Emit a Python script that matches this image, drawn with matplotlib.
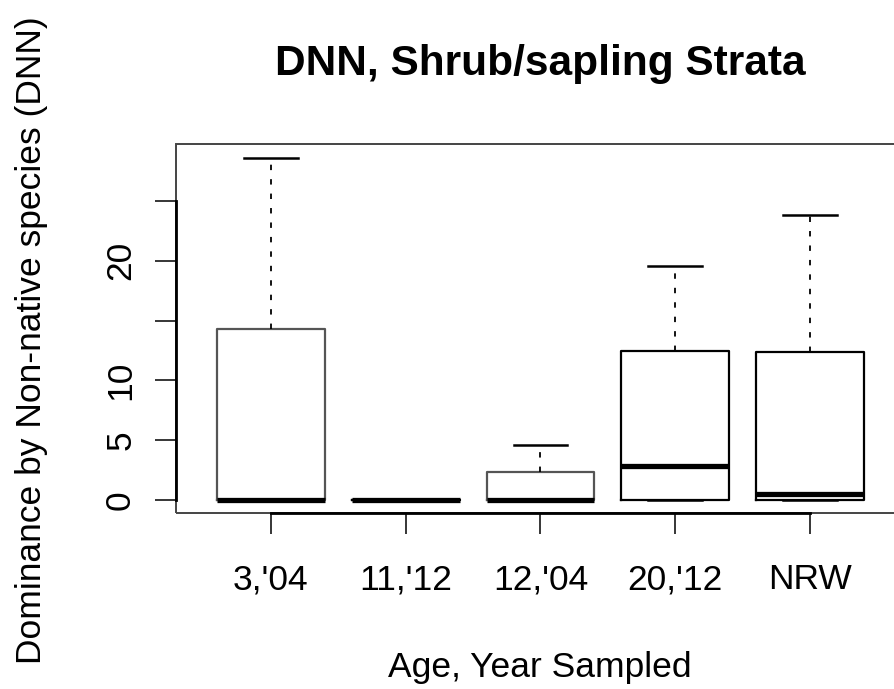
import matplotlib
matplotlib.use('Agg')
import matplotlib.pyplot as plt
from matplotlib.patches import Rectangle

# Box summaries (DNN values)
categories = ["3,'04", "11,'12", "12,'04", "20,'12", "NRW"]
whislo = [0, 0, 0, 0, 0]
q1 = [0, 0, 0, 0, 0]
med = [0, 0, 0, 2.8, 0.5]
q3 = [14.3, 0, 2.3, 12.5, 12.4]
whishi = [28.6, 0, 4.6, 19.6, 23.8]

ytick_vals = [0, 5, 10, 15, 20, 25]
ytick_labels = ['0', '5', '10', '', '20', '']  # R drops labels that would overlap

plt.rcParams['font.family'] = ['Liberation Sans', 'DejaVu Sans']

fig = plt.figure(figsize=(8.95, 6.89), dpi=100)
ax = fig.add_axes([176 / 895, 1 - 513 / 689, (905 - 176) / 895, (513 - 144) / 689])

stats = []
for c, lo, a, m, b, hi in zip(categories, whislo, q1, med, q3, whishi):
    stats.append(dict(label=c, whislo=lo, q1=a, med=m, q3=b, whishi=hi, fliers=[]))

positions = list(range(1, len(categories) + 1))
bp = ax.bxp(stats, positions=positions, widths=0.8, capwidths=0.4, showfliers=False,
            boxprops=dict(color='black', linewidth=1.6),
            medianprops=dict(color='black', linewidth=3.8, solid_capstyle='butt'),
            whiskerprops=dict(color='black', linewidth=1.3, linestyle=(0, (3, 5))),
            capprops=dict(color='black', linewidth=1.8))

# first and third boxes look lighter in the scan
for i in (0, 2):
    bp['boxes'][i].set_color('#555555')

ax.set_xlim(0.296, 5.704)
ax.set_ylim(-1.09, 29.77)

ax.set_yticks(ytick_vals)
ax.set_yticklabels(ytick_labels, rotation=90, va='center')
ax.set_xticks(positions)
ax.set_xticklabels(categories)
ax.tick_params(axis='both', direction='out', length=15, width=1.1, labelsize=25.5)
ax.tick_params(axis='x', pad=21)
ax.tick_params(axis='y', pad=13)

# R style: axis lines only span the ticks, plus a thin frame
for side in ('top', 'right'):
    ax.spines[side].set_visible(False)
ax.spines['left'].set_bounds(0, 25)
ax.spines['bottom'].set_bounds(1, 5)
ax.spines['left'].set_linewidth(2)
ax.spines['bottom'].set_linewidth(2)
ax.add_patch(Rectangle((0, 0), 1, 1, transform=ax.transAxes, fill=False,
                       lw=1.4, ec='#444444', clip_on=False))

ax.set_title('DNN, Shrub/sapling Strata', fontsize=30.5, fontweight='bold', pad=50)
fig.text(540 / 895, 1 - 677 / 689, 'Age, Year Sampled', fontsize=25.5,
         ha='center', va='baseline')
fig.text(32 / 895, 1 - 340 / 689, 'Dominance by Non-native species (DNN)', fontsize=25.5,
         rotation=90, ha='center', va='center')

fig.savefig('out.png', dpi=100)
